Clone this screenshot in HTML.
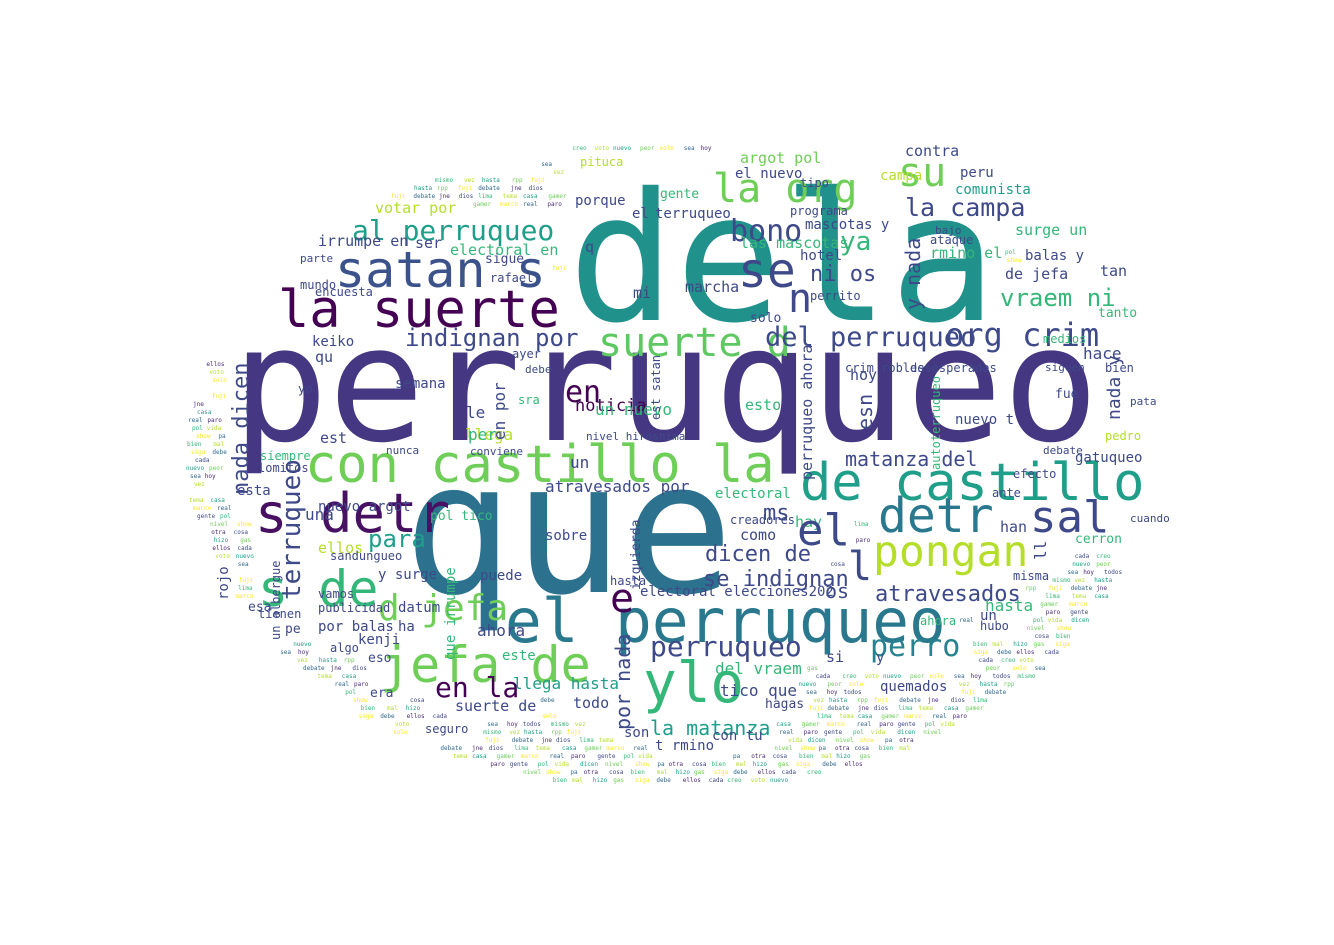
<!DOCTYPE html>
<html><head><meta charset="utf-8"><style>
html,body{margin:0;padding:0;background:#fff;width:1334px;height:945px;overflow:hidden}
svg text{font-family:"DejaVu Sans Mono","Liberation Mono",monospace}
</style></head><body>
<svg id="cloud" width="1334" height="945" viewBox="0 0 1334 945" xmlns="http://www.w3.org/2000/svg">
<rect width="1334" height="945" fill="#fff"/>
<g id="filler"></g>
<g id="big"></g>
</svg>
<script>
// words: text, x, baseline y, font size, color, rotation
const words = [
["perruqueo",232,440,160,"#453781",0],
["dela",568,320,178,"#21918c",0],
["que",403,592,183,"#2c728e",0],
["la suerte",278,327,52,"#440154",0],
["satan s",335,287,50,"#3b528b",0],
["el perruqueo",505,642,61,"#2a788e",0],
["de castillo",800,500,52,"#1f9e89",0],
["con castillo la",305,482,52,"#6ece58",0],
["s detr",255,532,54,"#471063",0],
["s de",258,606,50,"#35b779",0],
["jefa de",380,682,50,"#6ece58",0],
["ylo",643,702,56,"#35b779",0],
["pongan",873,566,43,"#b5de2b",0],
["detr",878,532,48,"#2a788e",0],
["sal",1030,532,44,"#3e4989",0],
["suerte d",598,356,40,"#5ec962",0],
["del perruqueo",765,346,27,"#3e4989",0],
["la org",713,202,40,"#6ece58",0],
["su",898,186,40,"#6ece58",0],
["al perruqueo",352,240,28,"#1f9e89",0],
["se",738,287,48,"#3e4989",0],
["bono",730,241,30,"#3e4989",0],
["la campa",905,216,25,"#3e4989",0],
["org crim",945,346,32,"#3e4989",0],
["vraem ni",1000,306,24,"#35b779",0],
["indignan por",405,346,24,"#3e4989",0],
["en",565,402,30,"#440154",0],
["perruqueo",650,656,28,"#3e4989",0],
["en la",435,697,28,"#440154",0],
["perro",870,656,30,"#26828e",0],
["dicen de",705,561,22,"#3e4989",0],
["se indignan",703,586,22,"#3e4989",0],
["atravesados",875,601,22,"#3e4989",0],
["para",368,547,24,"#1f9e89",0],
["la matanza",650,735,20,"#1f9e89",0],
["matanza del",845,466,20,"#3e4989",0],
["d jefa",378,620,36,"#6ece58",0],
["atravesados por",545,492,16,"#3e4989",0],
["noticia",575,411,17,"#440154",0],
["un nuevo",595,415,16,"#35b779",0],
["irrumpe en",318,246,15,"#3e4989",0],
["votar por",375,213,15,"#b5de2b",0],
["campa",880,180,14,"#b5de2b",0],
["argot pol",740,163,15,"#6ece58",0],
["contra",905,156,15,"#3e4989",0],
["comunista",955,194,14,"#1f9e89",0],
["surge un",1015,235,15,"#35b779",0],
["de jefa",1005,279,15,"#3e4989",0],
["ahora",477,636,16,"#3e4989",0],
["llega hasta",513,689,16,"#1f9e89",0],
["suerte de",455,711,15,"#3e4989",0],
["todo",573,708,15,"#3e4989",0],
["nuevo argot",318,511,14,"#3e4989",0],
["keiko",312,346,14,"#3e4989",0],
["semana",395,388,14,"#3e4989",0],
["hasta",985,611,16,"#35b779",0],
["hace",1083,359,16,"#3e4989",0],
["tanto",1098,317,13,"#35b779",0],
["gatuqueo",1075,462,14,"#3e4989",0],
["cerron",1075,543,13,"#35b779",0],
["electoral elecciones202",640,596,14,"#3e4989",0],
["os",825,598,20,"#3e4989",0],
["kenji",358,644,14,"#3e4989",0],
["por balas",318,631,14,"#3e4989",0],
["y surge",378,579,14,"#3e4989",0],
["del vraem",715,674,16,"#35b779",0],
["tico que",720,696,16,"#3e4989",0],
["quemados",880,691,14,"#3e4989",0],
["las mascotas",740,248,15,"#35b779",0],
["mascotas y",805,229,14,"#3e4989",0],
["ni os",810,281,22,"#3e4989",0],
["ya",840,250,26,"#35b779",0],
["n",788,312,40,"#3e4989",0],
["electoral en",450,255,15,"#35b779",0],
["porque",575,205,14,"#3e4989",0],
["gente",660,198,13,"#35b779",0],
["marcha",685,292,15,"#3e4989",0],
["solo",750,322,13,"#3e4989",0],
["hoy",850,380,15,"#3e4989",0],
["esto",745,410,15,"#35b779",0],
["hay",795,527,15,"#35b779",0],
["como",740,540,15,"#3e4989",0],
["electoral",715,498,14,"#35b779",0],
["creadores",730,524,12,"#3e4989",0],
["nuevo t",955,424,14,"#3e4989",0],
["han",1000,532,15,"#3e4989",0],
["un",980,620,14,"#3e4989",0],
["balas y",1025,260,14,"#3e4989",0],
["tan",1100,276,15,"#3e4989",0],
["medios",1043,343,12,"#35b779",0],
["fue",1055,398,13,"#3e4989",0],
["bien",1105,372,12,"#3e4989",0],
["pata",1130,405,11,"#3e4989",0],
["pedro",1105,440,12,"#b5de2b",0],
["debate",1043,454,11,"#3e4989",0],
["ahora",920,625,12,"#35b779",0],
["y",876,662,14,"#3e4989",0],
["si",826,662,15,"#3e4989",0],
["ellos",318,553,15,"#b5de2b",0],
["una",305,520,16,"#3e4989",0],
["esta",237,495,14,"#3e4989",0],
["siempre",260,460,12,"#35b779",0],
["lomitos",258,472,12,"#3e4989",0],
["est",320,443,15,"#3e4989",0],
["qu",315,362,15,"#3e4989",0],
["yo",298,393,12,"#3e4989",0],
["mundo",300,289,12,"#3e4989",0],
["parte",300,262,11,"#3e4989",0],
["encuesta",315,296,12,"#3e4989",0],
["ser",415,248,15,"#3e4989",0],
["sigue",485,263,13,"#3e4989",0],
["rafael",490,282,12,"#3e4989",0],
["mi",633,298,15,"#3e4989",0],
["q",585,252,15,"#3e4989",0],
["llega",465,440,16,"#b5de2b",0],
["per",468,440,16,"#35b779",0],
["le",466,418,16,"#3e4989",0],
["un",570,468,16,"#3e4989",0],
["sra",518,404,12,"#35b779",0],
["nunca",386,454,11,"#3e4989",0],
["conviene",470,455,11,"#3e4989",0],
["sobre",545,540,14,"#3e4989",0],
["puede",480,580,14,"#3e4989",0],
["este",502,660,14,"#35b779",0],
["eso",368,662,13,"#3e4989",0],
["hasta",610,585,12,"#3e4989",0],
["publicidad",318,612,12,"#3e4989",0],
["vamos",318,598,12,"#3e4989",0],
["tienen",258,618,12,"#3e4989",0],
["esa",248,611,13,"#3e4989",0],
["pe",285,633,13,"#3e4989",0],
["era",370,697,13,"#3e4989",0],
["seguro",425,733,12,"#3e4989",0],
["son",624,737,14,"#3e4989",0],
["con tu",712,740,14,"#3e4989",0],
["t rmino",655,750,14,"#3e4989",0],
["hagas",765,708,13,"#3e4989",0],
["hubo",980,630,12,"#3e4989",0],
["ante",992,497,12,"#3e4989",0],
["efecto",1013,478,12,"#3e4989",0],
["misma",1013,580,12,"#3e4989",0],
["cuando",1130,522,11,"#3e4989",0],
["hotel",800,260,14,"#3e4989",0],
["ataque",930,244,12,"#3e4989",0],
["bajo",935,234,11,"#3e4989",0],
["rmino el",930,258,15,"#35b779",0],
["peru",960,177,14,"#3e4989",0],
["el nuevo",735,178,14,"#3e4989",0],
["tipo",800,187,12,"#3e4989",0],
["terruqueo",655,218,14,"#3e4989",0],
["el",632,218,14,"#3e4989",0],
["pituca",580,166,12,"#b5de2b",0],
["programa",790,215,12,"#3e4989",0],
["perrito",810,300,12,"#3e4989",0],
["crim robles",845,372,12,"#3e4989",0],
["desesperados",910,372,12,"#3e4989",0],
["siguen",1045,371,11,"#3e4989",0],
["pol tico",430,520,13,"#35b779",0],
["datum",398,612,14,"#3e4989",0],
["sandungueo",330,560,12,"#3e4989",0],
["ha",398,631,14,"#3e4989",0],
["algo",330,652,12,"#3e4989",0],
["ayer",512,358,12,"#3e4989",0],
["debe",525,373,11,"#3e4989",0],
["nivel hiroshima",586,440,11,"#3e4989",0],
["est satan",660,420,12,"#3e4989",-90],
["perruqueo ahora",812,480,15,"#3e4989",-90],
["terruqueo",300,600,26,"#3e4989",-90],
["nada dicen",248,495,22,"#3e4989",-90],
["rojo",228,600,14,"#3e4989",-90],
["por nada",630,730,20,"#3e4989",-90],
["izquierda",640,590,13,"#3e4989",-90],
["que irrumpe",455,660,14,"#35b779",-90],
["en por",505,440,16,"#3e4989",-90],
["y nada",920,310,20,"#3e4989",-90],
["nada y",1120,420,18,"#3e4989",-90],
["esn",872,430,20,"#3e4989",-90],
["autoterruqueo",940,470,12,"#35b779",-90],
["un albergue",280,640,12,"#3e4989",-90],
["ll",1046,560,16,"#3e4989",-90],
["e",610,612,40,"#440154",0],
["ms",763,520,22,"#3e4989",0],
["l",848,580,40,"#3e4989",0],
["el",797,545,44,"#3e4989",0]
];
const fillerWords = ["gente","pol","vida","dicen","nivel","show","pa","otra","cosa","bien","mal","hizo","gas","siga","debe","ellos","cada","creo","voto","nuevo","peor","solo","sea","hoy","todos","mismo","vez","hasta","rpp","fuji","debate","jne","dios","lima","tema","casa","gamer","marco","real","paro"];
const fillerColors = ["#3e4989","#35b779","#b5de2b","#1f9e89","#6ece58","#fde725","#31688e","#482878"];
const svgNS="http://www.w3.org/2000/svg";
const big=document.getElementById('big');
const boxes=[];
words.forEach(w=>{
  const t=document.createElementNS(svgNS,'text');
  
  
  t.setAttribute('x',w[1]);t.setAttribute('y',w[2]);
  t.setAttribute('font-size',w[3]);t.setAttribute('fill',w[4]);
  if(w[5]) t.setAttribute('transform','rotate('+w[5]+' '+w[1]+' '+w[2]+')');
  t.textContent=w[0];
  big.appendChild(t);
  const b=t.getBoundingClientRect();
  boxes.push([b.left,b.top,b.right,b.bottom]);
});
const filler=document.getElementById('filler');
let k=0;
function inCloud(x,y){
  const dx=(x-668)/485, dy=(y-460)/(y<460?320:335);
  return dx*dx+dy*dy<1 && y>140 && y<790 && !(y<230 && x<330) && !(y<180 && (x<540||x>1100));
}
for(let y=150;y<790;y+=8){
  let x=185+((y*7)%13);
  while(x<1160){
    const wd=fillerWords[k%fillerWords.length];
    const w=wd.length*3.6;
    if(inCloud(x,y)&&inCloud(x+w,y)){
      let hit=boxes.some(b=>x+w>b[0]-1&&x<b[2]+1&&y>b[1]-1&&y-6<b[3]+1);
      if(!hit){
        const t=document.createElementNS(svgNS,'text');
        
        
        t.setAttribute('x',x);t.setAttribute('y',y);
        t.setAttribute('font-size',6);
        t.setAttribute('fill',fillerColors[k%fillerColors.length]);
        t.textContent=wd;
        filler.appendChild(t);
      }
    }
    x+=w+4+((k*5)%9);
    k++;
  }
}
</script>
</body></html>
